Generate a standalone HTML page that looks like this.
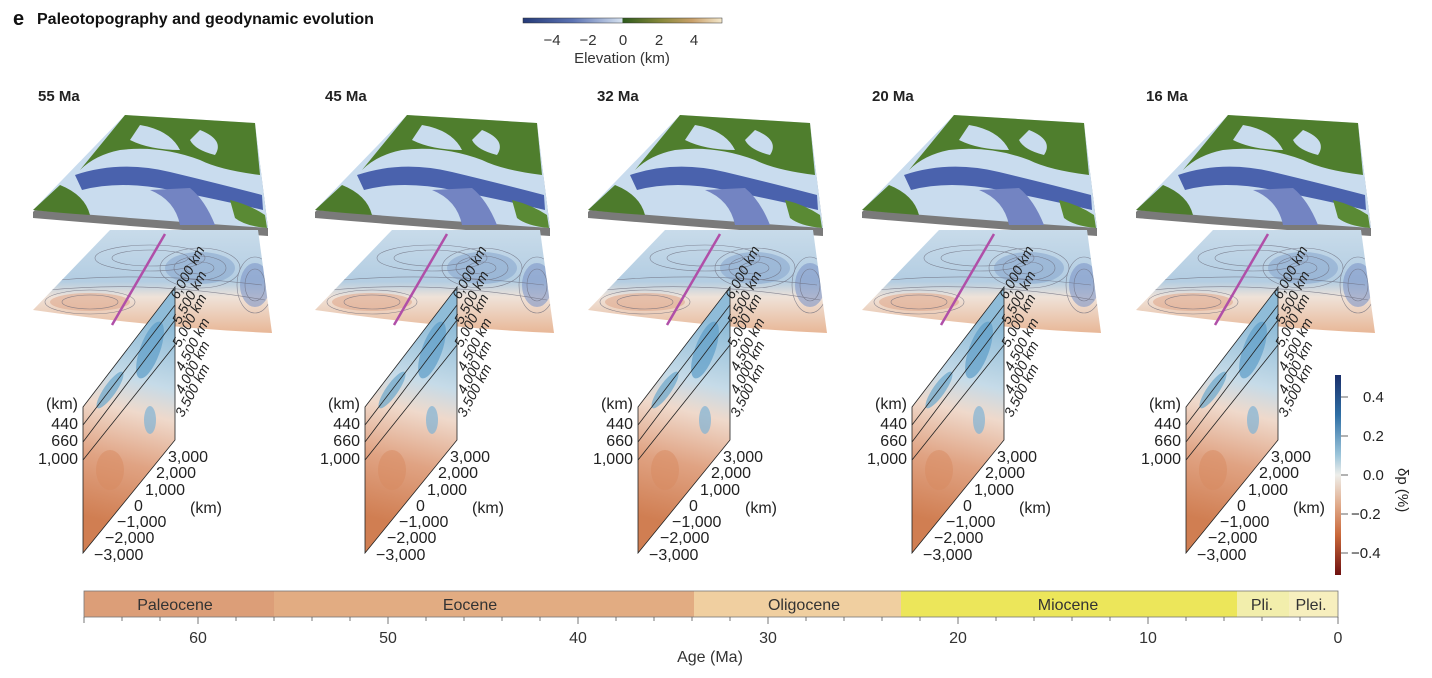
<!DOCTYPE html>
<html><head><meta charset="utf-8"><style>
body{margin:0;background:#fff;}
svg{display:block;font-family:"Liberation Sans",sans-serif;}
</style></head><body>
<svg width="1432" height="678" viewBox="0 0 1432 678" xmlns="http://www.w3.org/2000/svg">
<defs>
<clipPath id="tc"><path d="M110,230 L258,230 L272,333 Q160,328 33,310 Z"/></clipPath>
<clipPath id="sc"><path d="M83,407 L175,287 L175,440 L83,553 Z"/></clipPath>
<linearGradient id="elev" x1="0" x2="1">
<stop offset="0" stop-color="#243a78"/><stop offset="0.25" stop-color="#5c73b3"/><stop offset="0.5" stop-color="#d6e2f0"/>
<stop offset="0.5" stop-color="#2d5a1c"/><stop offset="0.7" stop-color="#8a8a3c"/><stop offset="0.85" stop-color="#c9a06a"/><stop offset="1" stop-color="#f4e8cc"/>
</linearGradient>
<linearGradient id="dp" x1="0" y1="0" x2="0" y2="1">
<stop offset="0" stop-color="#1a2f6b"/><stop offset="0.2" stop-color="#2f6fa5"/><stop offset="0.4" stop-color="#9cc5da"/><stop offset="0.5" stop-color="#eeeeea"/>
<stop offset="0.65" stop-color="#e0aa8a"/><stop offset="0.8" stop-color="#c9683a"/><stop offset="1" stop-color="#6e1010"/>
</linearGradient>
<linearGradient id="tomo" x1="0" y1="0" x2="0" y2="1">
<stop offset="0" stop-color="#c8dbea"/><stop offset="0.5" stop-color="#b3cde2"/><stop offset="0.65" stop-color="#efe2d8"/><stop offset="1" stop-color="#e8b797"/>
</linearGradient>
<linearGradient id="sec" gradientUnits="userSpaceOnUse" x1="150" y1="320" x2="100" y2="520">
<stop offset="0" stop-color="#8fbcd8"/><stop offset="0.3" stop-color="#c6dbe8"/><stop offset="0.45" stop-color="#efd9cb"/><stop offset="0.7" stop-color="#e0a383"/><stop offset="1" stop-color="#d07e52"/>
</linearGradient>
<g id="panel">
<path d="M33,212 L125,117 L255,125 L268,228 L268,236 Q150,228 33,218 Z" fill="#7a7a7a"/>
<path d="M33,210 L125,115 L255,123 L268,228 Q150,220 33,210 Z" fill="#c9dcee"/>
<path d="M125,115 L255,123 L260,175 Q220,170 200,160 Q160,145 120,150 Q95,155 80,170 Z" fill="#4f7e2d"/>
<path d="M140,125 Q170,130 180,150 Q150,150 130,140 Z" fill="#c9dcee"/>
<path d="M200,130 Q225,140 215,155 Q195,150 190,140 Z" fill="#c9dcee"/>
<path d="M75,175 Q120,160 170,172 Q220,184 262,195 L263,210 Q220,200 170,190 Q120,180 82,190 Z" fill="#4a62ad"/>
<path d="M150,190 Q175,200 180,225 L215,225 Q205,200 190,188 Z" fill="#7384c2"/>
<path d="M33,210 L60,185 Q85,195 90,215 Q60,213 33,210 Z" fill="#4d7b2c"/>
<path d="M230,200 Q250,205 265,215 L267,228 Q245,226 235,218 Z" fill="#5a8a34"/>
<path d="M110,230 L258,230 L272,333 Q160,328 33,310 Z" fill="url(#tomo)"/>
<g clip-path="url(#tc)">
<ellipse cx="200" cy="268" rx="35" ry="16" fill="#8aa8cf" opacity="0.6"/>
<ellipse cx="255" cy="285" rx="15" ry="22" fill="#7f96c8" opacity="0.6"/>
<ellipse cx="90" cy="302" rx="40" ry="9" fill="#dea487" opacity="0.55"/>
<g fill="none" stroke="#6a6a7a" stroke-width="0.6" opacity="0.75">
<ellipse cx="150" cy="258" rx="55" ry="13"/><ellipse cx="150" cy="258" rx="38" ry="8"/>
<ellipse cx="200" cy="268" rx="40" ry="20"/><ellipse cx="200" cy="268" rx="26" ry="12"/><ellipse cx="200" cy="268" rx="14" ry="6"/>
<ellipse cx="255" cy="285" rx="18" ry="28"/><ellipse cx="255" cy="285" rx="10" ry="16"/>
<ellipse cx="90" cy="302" rx="45" ry="12"/><ellipse cx="90" cy="302" rx="28" ry="7"/>
<path d="M50,290 Q150,280 265,300"/><path d="M60,280 Q150,272 262,285"/>
</g></g>
<line x1="165" y1="234" x2="112" y2="325" stroke="#b04fa8" stroke-width="2.5"/>
<path d="M83,407 L175,287 L175,440 L83,553 Z" fill="url(#sec)"/>
<g clip-path="url(#sc)">
<ellipse cx="150" cy="350" rx="10" ry="30" fill="#5d9cc8" opacity="0.7" transform="rotate(20 150 350)"/>
<ellipse cx="110" cy="390" rx="6" ry="22" fill="#6aa6cc" opacity="0.7" transform="rotate(35 110 390)"/>
<ellipse cx="150" cy="420" rx="6" ry="14" fill="#7fb2d4" opacity="0.7"/>
<ellipse cx="110" cy="470" rx="14" ry="20" fill="#d88a60" opacity="0.5"/>
</g>
<g stroke="#222" stroke-width="0.8" fill="none">
<path d="M83,407 L175,287 L175,440 L83,553 Z"/>
<line x1="83" y1="425" x2="175" y2="305"/><line x1="83" y1="442" x2="175" y2="320"/><line x1="83" y1="460" x2="175" y2="345"/>
</g>
<g font-size="16" fill="#222" text-anchor="end">
<text x="78" y="409">(km)</text><text x="78" y="429">440</text><text x="78" y="446">660</text><text x="78" y="464">1,000</text>
</g>
<g font-size="16" fill="#222">
<text x="168" y="462">3,000</text><text x="156" y="478">2,000</text><text x="145" y="495">1,000</text><text x="134" y="511">0</text>
<text x="117" y="527">−1,000</text><text x="105" y="543">−2,000</text><text x="94" y="560">−3,000</text><text x="190" y="513">(km)</text>
</g>
<g font-size="14" fill="#222" font-style="italic">
<text transform="translate(178,300) rotate(-62)">6,000 km</text>
<text transform="translate(180,325) rotate(-62)">5,500 km</text>
<text transform="translate(180,348) rotate(-62)">5,000 km</text>
<text transform="translate(183,372) rotate(-62)">4,500 km</text>
<text transform="translate(183,395) rotate(-62)">4,000 km</text>
<text transform="translate(183,418) rotate(-62)">3,500 km</text>
</g>
</g>
</defs>
<text x="13" y="25" font-size="20" font-weight="bold" fill="#111">e</text>
<text x="37" y="24" font-size="16" font-weight="bold" fill="#111">Paleotopography and geodynamic evolution</text>
<rect x="523" y="18" width="199" height="5" fill="url(#elev)" stroke="#333" stroke-width="0.5"/>
<g font-size="15" fill="#333" text-anchor="middle">
<text x="552" y="45">−4</text><text x="588" y="45">−2</text><text x="623" y="45">0</text><text x="659" y="45">2</text><text x="694" y="45">4</text>
<text x="622" y="63">Elevation (km)</text></g>
<g font-size="15" font-weight="bold" fill="#222">
<text x="38" y="101">55 Ma</text><text x="325" y="101">45 Ma</text><text x="597" y="101">32 Ma</text><text x="872" y="101">20 Ma</text><text x="1146" y="101">16 Ma</text>
</g>
<use href="#panel"/>
<use href="#panel" transform="translate(282,0)"/>
<use href="#panel" transform="translate(555,0)"/>
<use href="#panel" transform="translate(829,0)"/>
<use href="#panel" transform="translate(1103,0)"/>
<rect x="1335" y="375" width="6" height="200" fill="url(#dp)"/>
<g stroke="#666" stroke-width="1"><line x1="1341" y1="397" x2="1348" y2="397"/><line x1="1341" y1="436" x2="1348" y2="436"/><line x1="1341" y1="475" x2="1348" y2="475"/><line x1="1341" y1="514" x2="1348" y2="514"/><line x1="1341" y1="553" x2="1348" y2="553"/></g>
<g font-size="15" fill="#222"><text x="1363" y="402">0.4</text><text x="1363" y="441">0.2</text><text x="1363" y="480">0.0</text><text x="1351" y="519">−0.2</text><text x="1351" y="558">−0.4</text></g>
<text transform="translate(1398,468) rotate(90)" font-size="15" fill="#222">δp (%)</text>
<rect x="84" y="591" width="190" height="26" fill="#dc9e78"/>
<rect x="274" y="591" width="420" height="26" fill="#e2ac82"/>
<rect x="694" y="591" width="207" height="26" fill="#f0cfa0"/>
<rect x="901" y="591" width="336" height="26" fill="#ece65a"/>
<rect x="1237" y="591" width="52" height="26" fill="#f2eeac"/>
<rect x="1289" y="591" width="49" height="26" fill="#f7efbe"/>
<rect x="84" y="591" width="1254" height="26" fill="none" stroke="#777" stroke-width="0.8"/>
<g font-size="16" fill="#333" text-anchor="middle">
<text x="175" y="610">Paleocene</text><text x="470" y="610">Eocene</text><text x="804" y="610">Oligocene</text><text x="1068" y="610">Miocene</text><text x="1262" y="610">Pli.</text><text x="1311" y="610">Plei.</text>
</g>
<g stroke="#555" stroke-width="0.8">
<line x1="84" y1="617" x2="84" y2="623"/><line x1="122" y1="617" x2="122" y2="621"/><line x1="160" y1="617" x2="160" y2="621"/><line x1="198" y1="617" x2="198" y2="624"/><line x1="236" y1="617" x2="236" y2="621"/><line x1="274" y1="617" x2="274" y2="621"/><line x1="312" y1="617" x2="312" y2="621"/><line x1="350" y1="617" x2="350" y2="621"/><line x1="388" y1="617" x2="388" y2="624"/><line x1="426" y1="617" x2="426" y2="621"/><line x1="464" y1="617" x2="464" y2="621"/><line x1="502" y1="617" x2="502" y2="621"/><line x1="540" y1="617" x2="540" y2="621"/><line x1="578" y1="617" x2="578" y2="624"/><line x1="616" y1="617" x2="616" y2="621"/><line x1="654" y1="617" x2="654" y2="621"/><line x1="692" y1="617" x2="692" y2="621"/><line x1="730" y1="617" x2="730" y2="621"/><line x1="768" y1="617" x2="768" y2="624"/><line x1="806" y1="617" x2="806" y2="621"/><line x1="844" y1="617" x2="844" y2="621"/><line x1="882" y1="617" x2="882" y2="621"/><line x1="920" y1="617" x2="920" y2="621"/><line x1="958" y1="617" x2="958" y2="624"/><line x1="996" y1="617" x2="996" y2="621"/><line x1="1034" y1="617" x2="1034" y2="621"/><line x1="1072" y1="617" x2="1072" y2="621"/><line x1="1110" y1="617" x2="1110" y2="621"/><line x1="1148" y1="617" x2="1148" y2="624"/><line x1="1186" y1="617" x2="1186" y2="621"/><line x1="1224" y1="617" x2="1224" y2="621"/><line x1="1262" y1="617" x2="1262" y2="621"/><line x1="1300" y1="617" x2="1300" y2="621"/><line x1="1338" y1="617" x2="1338" y2="624"/>
</g>
<g font-size="16" fill="#333" text-anchor="middle">
<text x="198" y="643">60</text><text x="388" y="643">50</text><text x="578" y="643">40</text><text x="768" y="643">30</text><text x="958" y="643">20</text><text x="1148" y="643">10</text><text x="1338" y="643">0</text>
<text x="710" y="662">Age (Ma)</text>
</g>
</svg>
</body></html>
